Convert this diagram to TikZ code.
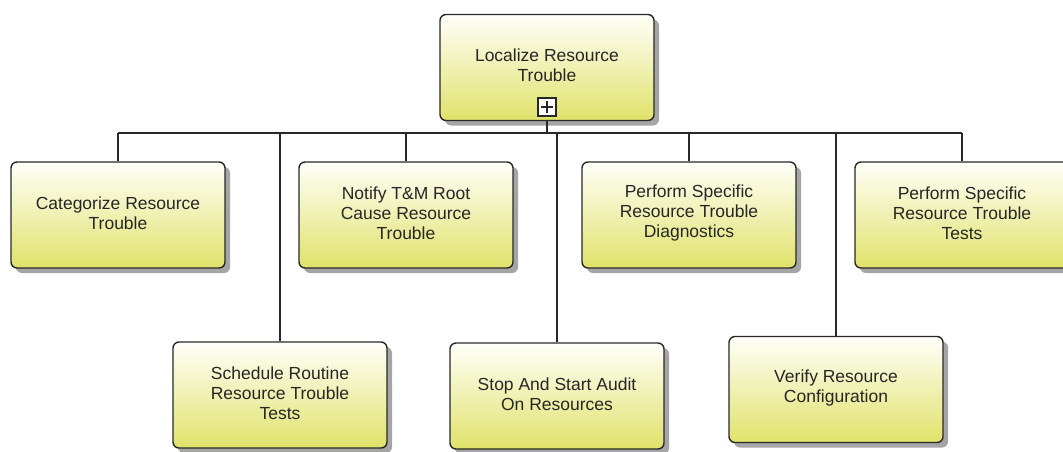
\documentclass[tikz,border=0pt]{standalone}
\usepackage{fontspec}
\setmainfont{Liberation Sans}
\usetikzlibrary{shadows}
\definecolor{boxtop}{RGB}{255,255,250}
\definecolor{boxbottom}{RGB}{224,226,105}
\definecolor{edge}{RGB}{40,40,40}
\definecolor{shade}{RGB}{155,155,155}
\begin{document}
\begin{tikzpicture}[x=1pt,y=-1pt,
  taskbox/.style={draw=edge, line width=1.4pt, rounded corners=6pt,
    minimum width=214pt, minimum height=106pt, inner sep=0pt,
    top color=boxtop, bottom color=boxbottom,
    drop shadow={shadow xshift=5pt, shadow yshift=-5pt, fill=shade, opacity=0.9}},
  tasktext/.style={font=\fontsize{17.5}{20}\selectfont, text=black!85, align=center},
  link/.style={draw=edge, line width=1.6pt}]
\useasboundingbox (0,0) rectangle (1063,451);
\clip (0,0) rectangle (1063,451);

% height of the horizontal bus
\coordinate (bus) at (0,133);

% parent box
\node[taskbox] (root) at (547,67.5) {};
\node[tasktext] (roottxt) at ([yshift=2pt]root.center) {Localize Resource\\Trouble};
\node[draw=edge, line width=1.2pt, fill=white, minimum size=18pt, inner sep=0pt] (expand) at (547,107) {};
\draw[edge, line width=1.3pt] ([xshift=-6pt]expand.center) -- ([xshift=6pt]expand.center)
  ([yshift=-6pt]expand.center) -- ([yshift=6pt]expand.center);

% first row of sub-tasks
\node[taskbox] (cat) at (118,215) {};
\node[tasktext] at ([yshift=2pt]cat.center) {Categorize Resource\\Trouble};
\node[taskbox] (notify) at (406,215) {};
\node[tasktext] at ([yshift=2pt]notify.center) {Notify T\&M Root\\Cause Resource\\Trouble};
\node[taskbox] (diag) at (689,215) {};
\node[tasktext] at ([yshift=2pt]diag.center) {Perform Specific\\Resource Trouble\\Diagnostics};
\node[taskbox] (tests) at (962,215) {};
\node[tasktext] at ([yshift=2pt]tests.center) {Perform Specific\\Resource Trouble\\Tests};

% second row of sub-tasks
\node[taskbox] (sched) at (280,395) {};
\node[tasktext] at ([yshift=2pt]sched.center) {Schedule Routine\\Resource Trouble\\Tests};
\node[taskbox] (stop) at (557,396) {};
\node[tasktext] at ([yshift=2pt]stop.center) {Stop And Start Audit\\On Resources};
\node[taskbox] (verify) at (836,389.5) {};
\node[tasktext] at ([yshift=2pt]verify.center) {Verify Resource\\Configuration};

% tree connectors
\path[link] (root.south) -- (root.south |- bus);
\path[link] (cat.north |- bus) -- (tests.north |- bus);
\foreach \n in {cat,notify,diag,tests,sched,stop,verify}
  \path[link] (\n.north) -- (\n.north |- bus);
\end{tikzpicture}
\end{document}
